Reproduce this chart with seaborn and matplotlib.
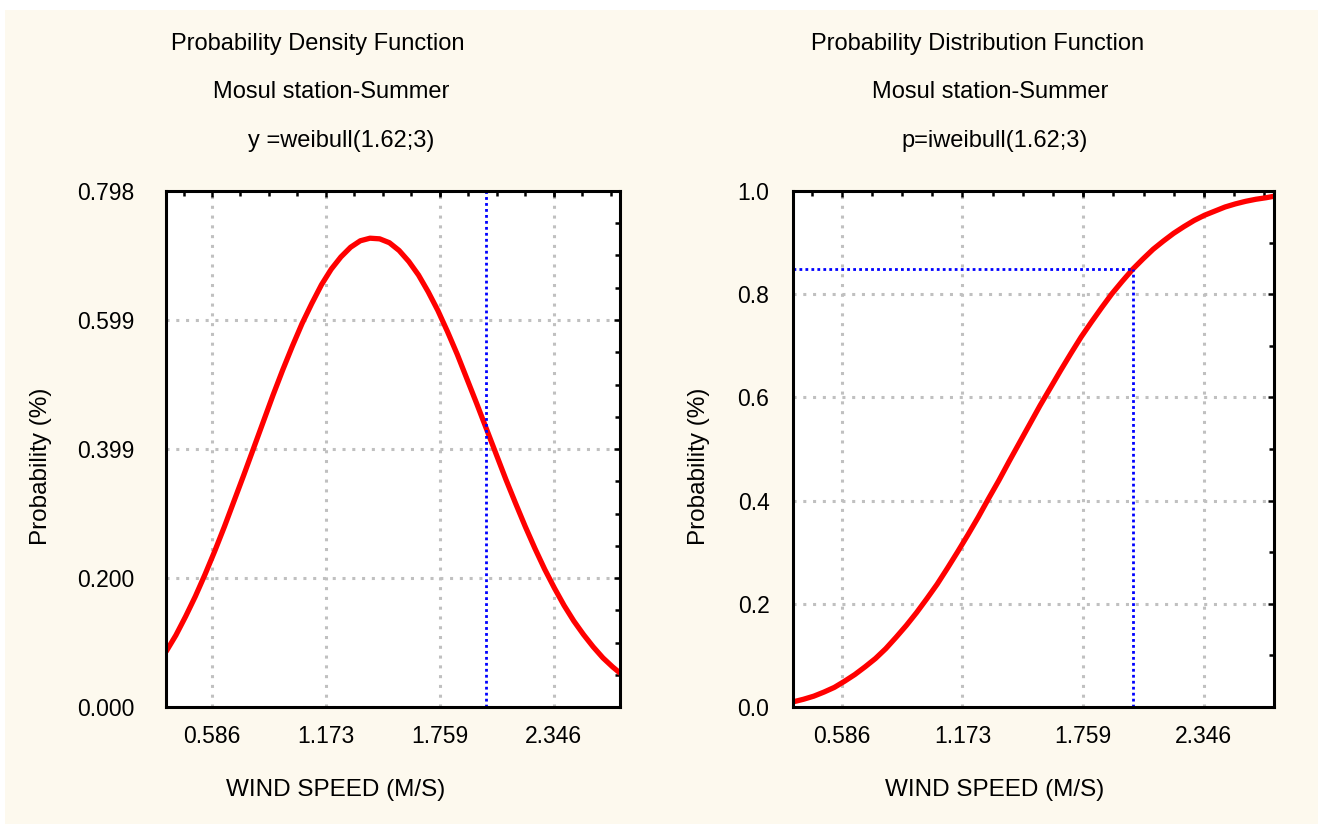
import numpy as np
import pandas as pd
import matplotlib
matplotlib.use("Agg")
import matplotlib.pyplot as plt
import seaborn as sns
from matplotlib.patches import Rectangle
from matplotlib.ticker import FixedLocator, AutoMinorLocator

# wind speed (m/s)
wind_speed = [0.35, 0.40, 0.45, 0.50, 0.55, 0.60, 0.65, 0.70, 0.75, 0.80,
              0.85, 0.90, 0.95, 1.00, 1.05, 1.10, 1.15, 1.20, 1.25, 1.30,
              1.35, 1.40, 1.45, 1.50, 1.55, 1.60, 1.65, 1.70, 1.75, 1.80,
              1.85, 1.90, 1.95, 2.00, 2.05, 2.10, 2.15, 2.20, 2.25, 2.30,
              2.35, 2.40, 2.45, 2.50, 2.55, 2.60, 2.65, 2.69]
# density curve values
pdf_vals = [0.086, 0.111, 0.140, 0.171, 0.205, 0.241, 0.279, 0.319, 0.359, 0.400,
            0.441, 0.482, 0.521, 0.558, 0.593, 0.624, 0.653, 0.677, 0.696, 0.711,
            0.721, 0.725, 0.724, 0.718, 0.706, 0.689, 0.668, 0.642, 0.613, 0.580,
            0.545, 0.507, 0.469, 0.430, 0.391, 0.352, 0.315, 0.279, 0.245, 0.213,
            0.184, 0.157, 0.133, 0.112, 0.093, 0.076, 0.062, 0.052]
# cumulative curve values
cdf_vals = [0.010, 0.015, 0.021, 0.029, 0.038, 0.050, 0.063, 0.078, 0.094, 0.113,
            0.135, 0.158, 0.183, 0.210, 0.238, 0.269, 0.301, 0.334, 0.368, 0.404,
            0.439, 0.476, 0.512, 0.548, 0.584, 0.618, 0.652, 0.685, 0.717, 0.746,
            0.774, 0.801, 0.825, 0.848, 0.868, 0.887, 0.903, 0.918, 0.931, 0.943,
            0.953, 0.961, 0.969, 0.975, 0.980, 0.984, 0.987, 0.990]

x_ticks = [0.586, 1.173, 1.759, 2.346]
x_labels = ["0.586", "1.173", "1.759", "2.346"]
x_range = (0.349, 2.688)

pdf_ticks = [0.0, 0.1995, 0.399, 0.5985, 0.798]
pdf_labels = ["0.000", "0.200", "0.399", "0.599", "0.798"]
cdf_ticks = [0.0, 0.2, 0.4, 0.6, 0.8, 1.0]
cdf_labels = ["0.0", "0.2", "0.4", "0.6", "0.8", "1.0"]

cut_speed = 2.0
cut_prob = 0.848

df = pd.DataFrame({"speed": wind_speed, "pdf": pdf_vals, "cdf": cdf_vals})

sns.set_theme(style="white")
plt.rcParams["font.family"] = ["Liberation Sans", "DejaVu Sans"]
plt.rcParams["text.color"] = "black"
plt.rcParams["axes.labelcolor"] = "black"
plt.rcParams["xtick.color"] = "black"
plt.rcParams["ytick.color"] = "black"

W, H = 1318, 824
fig = plt.figure(figsize=(W / 100, H / 100), dpi=100)
fig.patch.set_facecolor("white")
fig.patches.append(Rectangle((5 / W, 0), 1, (H - 10) / H, transform=fig.transFigure,
                             facecolor="#FDF9EE", edgecolor="none", zorder=-10))

ax1 = fig.add_axes([166 / W, (H - 707) / H, 454 / W, 516 / H])
ax2 = fig.add_axes([793 / W, (H - 707) / H, 481 / W, 516 / H])


def style_axis(ax, yticks, ylabels, nminor_y, ypad):
    ax.set_facecolor("white")
    ax.set_xlim(*x_range)
    ax.xaxis.set_major_locator(FixedLocator(x_ticks))
    ax.set_xticklabels(x_labels)
    ax.xaxis.set_minor_locator(AutoMinorLocator(4))
    ax.set_ylim(yticks[0], yticks[-1])
    ax.yaxis.set_major_locator(FixedLocator(yticks))
    ax.set_yticklabels(ylabels)
    ax.yaxis.set_minor_locator(AutoMinorLocator(nminor_y))
    ax.grid(True, which="major", color="#C0C0C0", linestyle=(0, (1, 2.2)), linewidth=2.2)
    ax.set_axisbelow(True)
    for sp in ax.spines.values():
        sp.set_visible(True)
        sp.set_color("black")
        sp.set_linewidth(2.2)
    ax.tick_params(which="both", direction="in", top=True, right=True,
                   color="black", width=1.8, labelsize=16.5, labelcolor="black")
    ax.tick_params(which="major", length=4)
    ax.tick_params(which="minor", length=3.5)
    ax.tick_params(axis="x", which="major", pad=13)
    ax.tick_params(axis="y", which="major", pad=ypad)


blue_dots = dict(color="blue", linestyle=(0, (1, 1.15)), linewidth=2.0)

# left: density
sns.lineplot(data=df, x="speed", y="pdf", ax=ax1, color="red", linewidth=3.8)
ax1.axvline(cut_speed, **blue_dots)
style_axis(ax1, pdf_ticks, pdf_labels, 4, 23)

# right: cumulative
sns.lineplot(data=df, x="speed", y="cdf", ax=ax2, color="red", linewidth=3.8)
ax2.vlines(cut_speed, 0, cut_prob, **blue_dots)
ax2.hlines(cut_prob, x_range[0], cut_speed, **blue_dots)
style_axis(ax2, cdf_ticks, cdf_labels, 2, 17)

for ax, xl, yl in [(ax1, 0.374, -0.251), (ax2, 0.419, -0.172)]:
    ax.set_xlabel("WIND SPEED (M/S)", fontsize=17.5, color="black")
    ax.set_ylabel("Probability (%)", fontsize=17.5, color="black")
    ax.xaxis.set_label_coords(xl, -0.14)
    ax.xaxis.label.set_va("top")
    ax.yaxis.set_label_coords(yl, 0.467)

titles_left = ["Probability Density Function", "Mosul station-Summer", "y =weibull(1.62;3)"]
titles_right = ["Probability Distribution Function", "Mosul station-Summer", "p=iweibull(1.62;3)"]
baselines = [50, 98, 147]
for txt, cx, by in zip(titles_left, [318, 331, 341], baselines):
    fig.text(cx / W, 1 - by / H, txt, ha="center", va="baseline", fontsize=17, color="black")
for txt, cx, by in zip(titles_right, [978, 990, 995], baselines):
    fig.text(cx / W, 1 - by / H, txt, ha="center", va="baseline", fontsize=17, color="black")

fig.savefig("out.png", dpi=100)
plt.close(fig)
